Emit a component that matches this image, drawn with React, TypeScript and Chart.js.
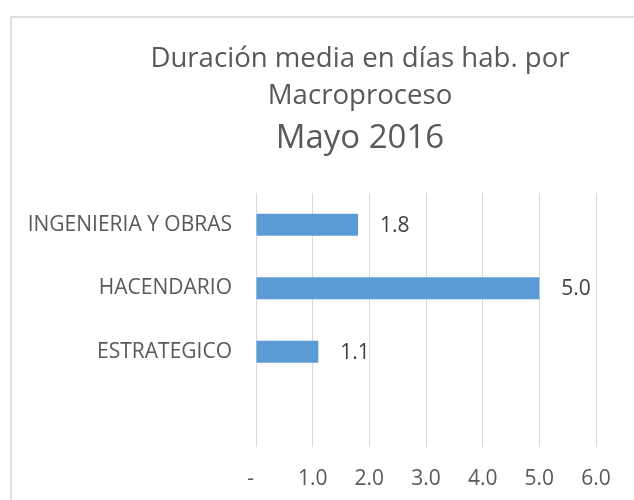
import React, { useEffect, useRef } from 'react';
import { Chart, registerables } from 'chart.js';

Chart.register(...registerables);

const categories = ['INGENIERIA Y OBRAS', 'HACENDARIO', 'ESTRATEGICO', ''];
const durations: (number | null)[] = [1.8, 5.0, 1.1, null];
const xMin = 0;
const xMax = 6;
const xStep = 1;
const titleLines = ['Duración media en días hab. por', 'Macroproceso'];
const subtitleText = 'Mayo 2016';

const FONT = "'Open Sans', sans-serif";
const TEXT = '#595959';

const titlePlugin = {
  id: 'customTitle',
  afterDraw(chart: any) {
    const ctx = chart.ctx;
    ctx.save();
    ctx.fillStyle = TEXT;
    ctx.textAlign = 'center';
    ctx.textBaseline = 'alphabetic';
    ctx.font = `27.6px ${FONT}`;
    ctx.fillText(titleLines[0], 360, 67);
    ctx.fillText(titleLines[1], 360, 104);
    ctx.font = `33px ${FONT}`;
    ctx.fillText(subtitleText, 360, 148);
    ctx.restore();
  },
};

const dataLabelPlugin = {
  id: 'barValueLabels',
  afterDatasetsDraw(chart: any) {
    const ctx = chart.ctx;
    const meta = chart.getDatasetMeta(0);
    ctx.save();
    ctx.fillStyle = '#404040';
    ctx.font = `21px ${FONT}`;
    ctx.textAlign = 'left';
    ctx.textBaseline = 'middle';
    meta.data.forEach((el: any, i: number) => {
      const v = durations[i];
      if (v === null || v === undefined) return;
      ctx.fillText(v.toFixed(1), el.x + 22, el.y + 1);
    });
    ctx.restore();
  },
};

export default function App() {
  const ref = useRef<HTMLCanvasElement>(null);

  useEffect(() => {
    if (!ref.current) return;
    const chart = new Chart(ref.current, {
      type: 'bar',
      data: {
        labels: categories,
        datasets: [
          {
            data: durations,
            backgroundColor: '#5B9BD5',
            borderWidth: 0,
            barPercentage: 0.346,
            categoryPercentage: 1,
          },
        ],
      },
      options: {
        indexAxis: 'y',
        responsive: false,
        animation: false,
        layout: { padding: { top: 193, right: 38, bottom: 0, left: 0 } },
        plugins: {
          legend: { display: false },
          title: { display: false },
          tooltip: { enabled: false },
        },
        scales: {
          x: {
            type: 'linear',
            min: xMin,
            max: xMax,
            ticks: {
              stepSize: xStep,
              color: TEXT,
              font: { family: FONT, size: 21 },
              padding: 19,
              callback: (v: any) => (Number(v) === 0 ? '-  ' : Number(v).toFixed(1)),
            },
            grid: { color: '#d9d9d9', lineWidth: 1, drawTicks: false },
            border: { display: false },
            afterFit: (s: any) => {
              s.height = 53;
            },
          },
          y: {
            type: 'category',
            ticks: {
              color: TEXT,
              font: { family: FONT, size: 21 },
              padding: 24,
            },
            grid: { display: false, drawTicks: false },
            border: { display: false },
            afterFit: (s: any) => {
              s.width = 256;
            },
          },
        },
      },
      plugins: [titlePlugin, dataLabelPlugin],
    } as any);
    return () => chart.destroy();
  }, []);

  return (
    <div
      style={{
        position: 'absolute',
        left: 0,
        top: 0,
        width: 634,
        height: 500,
        overflow: 'hidden',
        background: '#ffffff',
      }}
    >
      <div
        style={{
          position: 'absolute',
          left: 10,
          top: 16,
          width: 700,
          height: 600,
          borderLeft: '2px solid #e0e0e0',
          borderTop: '2px solid #e0e0e0',
        }}
      />
      <canvas
        ref={ref}
        width={634}
        height={500}
        style={{ position: 'absolute', left: 0, top: 0 }}
      />
    </div>
  );
}
